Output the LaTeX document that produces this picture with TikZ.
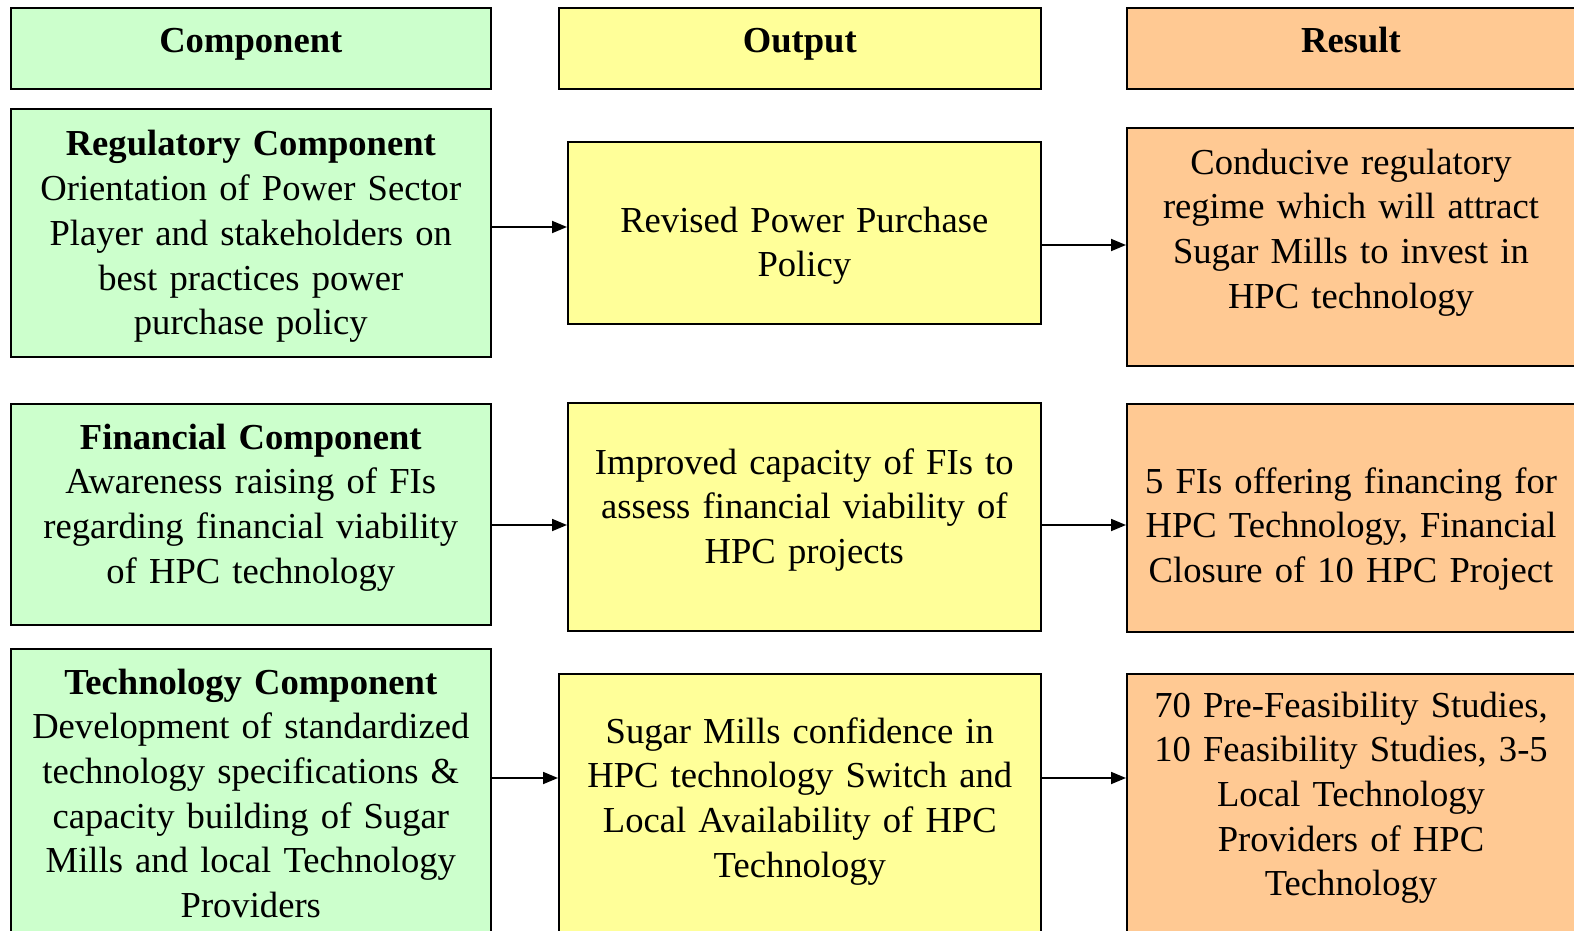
\documentclass[tikz,border=0pt]{standalone}
\usepackage{fontspec}
\setmainfont{Liberation Serif}
\usetikzlibrary{arrows.meta}
\definecolor{cgreen}{HTML}{CCFFCC}
\definecolor{cyellow}{HTML}{FFFF99}
\definecolor{corange}{HTML}{FFC993}
\tikzset{
  box/.style={draw=black, line width=1.6pt, inner sep=0pt, anchor=north west},
  gbox/.style={box, fill=cgreen},
  ybox/.style={box, fill=cyellow},
  obox/.style={box, fill=corange},
  txt/.style={anchor=base, align=center, text width=470pt, inner sep=0pt,
    font=\fontsize{36.6}{44.7}\selectfont},
  arr/.style={line width=1.8pt, -{Triangle[length=15pt,width=12pt]}}
}
\begin{document}
\begin{tikzpicture}[x=1pt,y=-1pt]
\useasboundingbox (0,0) rectangle (1574,931);
\clip (0,0) rectangle (1574,931);
% headers
\node[gbox, minimum width=480, minimum height=81] (hc) at (10,7) {};
\node[ybox, minimum width=482, minimum height=81] (ho) at (558,7) {};
\node[obox, minimum width=460, minimum height=81] (hr) at (1126,7) {};
\node[txt] (hct) at (hc.center |- 0,53) {\textbf{Component}};
\node[txt] (hot) at (ho.center |- 0,53) {\textbf{Output}};
\node[txt] (hrt) at (1351,53) {\textbf{Result}};
% row 1
\node[gbox, minimum width=480, minimum height=248] (reg) at (10,108) {};
\node[ybox, minimum width=473, minimum height=182] (rev) at (567,141) {};
\node[obox, minimum width=460, minimum height=238] (con) at (1126,127) {};
\node[txt] (regt) at (reg.center |- 0,156) {\textbf{Regulatory Component}\\Orientation of Power Sector\\Player and stakeholders on\\best practices power\\purchase policy};
\node[txt] (revt) at (rev.center |- 0,232) {Revised Power Purchase\\Policy};
\node[txt] (cont) at (1351,174) {Conducive regulatory\\regime which will attract\\Sugar Mills to invest in\\HPC technology};
% row 2
\node[gbox, minimum width=480, minimum height=221] (fin) at (10,403) {};
\node[ybox, minimum width=473, minimum height=228] (imp) at (567,402) {};
\node[obox, minimum width=460, minimum height=228] (fis) at (1126,403) {};
\node[txt] (fint) at (fin.center |- 0,449) {\textbf{Financial Component}\\Awareness raising of FIs\\regarding financial viability\\of HPC technology};
\node[txt] (impt) at (imp.center |- 0,474) {Improved capacity of FIs to\\assess financial viability of\\HPC projects};
\node[txt] (fist) at (1351,493) {5 FIs offering financing for\\HPC Technology, Financial\\Closure of 10 HPC Project};
% row 3
\node[gbox, minimum width=480, minimum height=300] (tec) at (10,648) {};
\node[ybox, minimum width=482, minimum height=280] (sug) at (558,673) {};
\node[obox, minimum width=460, minimum height=280] (pre) at (1126,673) {};
\node[txt] (tect) at (tec.center |- 0,694) {\textbf{Technology Component}\\Development of standardized\\technology specifications \&\\capacity building of Sugar\\Mills and local Technology\\Providers};
\node[txt] (sugt) at (sug.center |- 0,743) {Sugar Mills confidence in\\HPC technology Switch and\\Local Availability of HPC\\Technology};
\node[txt] (pret) at (1351,717) {70 Pre-Feasibility Studies,\\10 Feasibility Studies, 3-5\\Local Technology\\Providers of HPC\\Technology};
% arrows
\draw[arr] (reg.east |- 0,227) -- (rev.west |- 0,227);
\draw[arr] (rev.east |- 0,245) -- (con.west |- 0,245);
\draw[arr] (fin.east |- 0,525) -- (imp.west |- 0,525);
\draw[arr] (imp.east |- 0,525) -- (fis.west |- 0,525);
\draw[arr] (tec.east |- 0,778) -- (sug.west |- 0,778);
\draw[arr] (sug.east |- 0,778) -- (pre.west |- 0,778);
\end{tikzpicture}
\end{document}
